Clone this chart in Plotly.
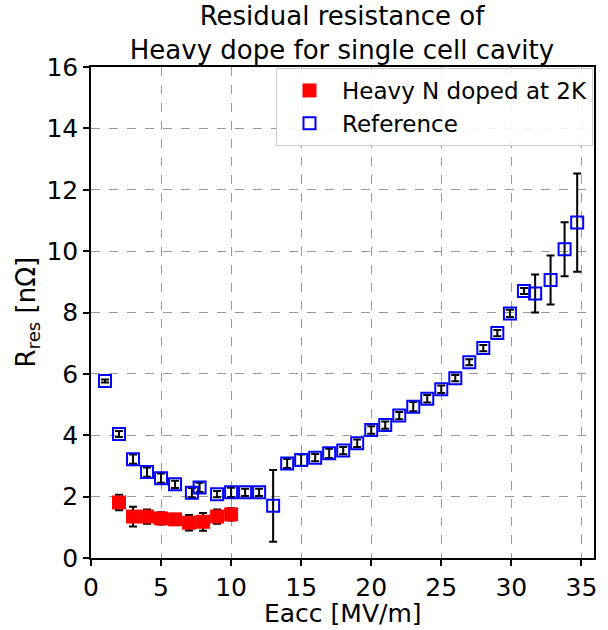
import plotly.graph_objects as go

# Heavy N doped at 2K
heavy_x = [2, 3, 4, 5, 6, 7, 8, 9, 10]
heavy_y = [1.81, 1.35, 1.35, 1.29, 1.26, 1.15, 1.18, 1.35, 1.42]
heavy_err = [0.25, 0.32, 0.23, 0.2, 0.08, 0.25, 0.29, 0.23, 0.2]

# Reference
ref_x = [1, 2, 3, 4, 5, 6, 7.2, 7.75, 9, 10, 11, 12, 13, 14, 15, 16, 17, 18, 19,
         20, 21, 22, 23, 24, 25, 26, 27, 28, 29, 29.9, 30.9, 31.7, 32.8, 33.8, 34.7]
ref_y = [5.77, 4.04, 3.22, 2.8, 2.6, 2.4, 2.13, 2.3, 2.08, 2.14, 2.14, 2.14, 1.70,
         3.08, 3.19, 3.27, 3.41, 3.5, 3.74, 4.17, 4.33, 4.64, 4.93, 5.19, 5.5,
         5.86, 6.38, 6.84, 7.33, 7.97, 8.7, 8.62, 9.06, 10.06, 10.93]
ref_err = [0.05, 0.1, 0.15, 0.15, 0.15, 0.12, 0.15, 0.15, 0.1, 0.15, 0.12, 0.12, 1.17,
           0.15, 0.18, 0.12, 0.15, 0.12, 0.12, 0.12, 0.12, 0.12, 0.15, 0.12, 0.12,
           0.1, 0.1, 0.1, 0.1, 0.12, 0.1, 0.62, 0.8, 0.88, 1.6]

font = "DejaVu Sans, sans-serif"

fig = go.Figure()
fig.add_trace(go.Scatter(
    x=heavy_x, y=heavy_y, mode="markers", name="Heavy N doped at 2K",
    marker=dict(symbol="square", size=14, color="red", line=dict(width=0)),
    error_y=dict(type="data", array=heavy_err, color="black", thickness=2, width=4),
))
fig.add_trace(go.Scatter(
    x=ref_x, y=ref_y, mode="markers", name="Reference",
    marker=dict(symbol="square-open", size=12, color="blue", line=dict(width=2, color="blue")),
    error_y=dict(type="data", array=ref_err, color="black", thickness=2, width=4),
))

axis_common = dict(
    showline=True, linecolor="black", linewidth=1.5, mirror=True,
    ticks="outside", tickcolor="black", ticklen=6, tickwidth=1.5,
    showgrid=True, gridcolor="#999999", griddash="dash", gridwidth=1,
    zeroline=False, tickfont=dict(size=25, color="black", family=font),
    automargin=False,
)

fig.update_layout(
    width=608, height=630,
    margin=dict(l=91, r=14, t=67, b=72),
    paper_bgcolor="white", plot_bgcolor="white",
    font=dict(family=font, color="black"),
    title=dict(text="Residual resistance of<br>Heavy dope for single cell cavity",
               x=0.5625, xanchor="center", yref="container", y=0.96, yanchor="top",
               font=dict(size=26, color="black", family=font)),
    xaxis=dict(range=[0, 35.9], tickvals=[0, 5, 10, 15, 20, 25, 30, 35], **axis_common),
    yaxis=dict(range=[0, 16], tickvals=[0, 2, 4, 6, 8, 10, 12, 14, 16], **axis_common),
    legend=dict(x=0.998, y=0.998, xanchor="right", yanchor="top",
                bgcolor="rgba(255,255,255,0.9)", bordercolor="#cccccc", borderwidth=1,
                itemwidth=55,
                font=dict(size=23, color="black", family=font)),
    showlegend=True,
    annotations=[
        dict(text="Eacc [MV/m]", xref="paper", yref="paper", x=0.5, y=0,
             xanchor="center", yanchor="top", yshift=-39, showarrow=False,
             font=dict(size=25, color="black", family=font)),
        dict(text="R<sub>res</sub> [nΩ]", xref="paper", yref="paper", x=0, y=0.5,
             xanchor="center", yanchor="middle", xshift=-64, textangle=-90,
             showarrow=False, font=dict(size=26, color="black", family=font)),
    ],
)

fig.write_html("out.html")
